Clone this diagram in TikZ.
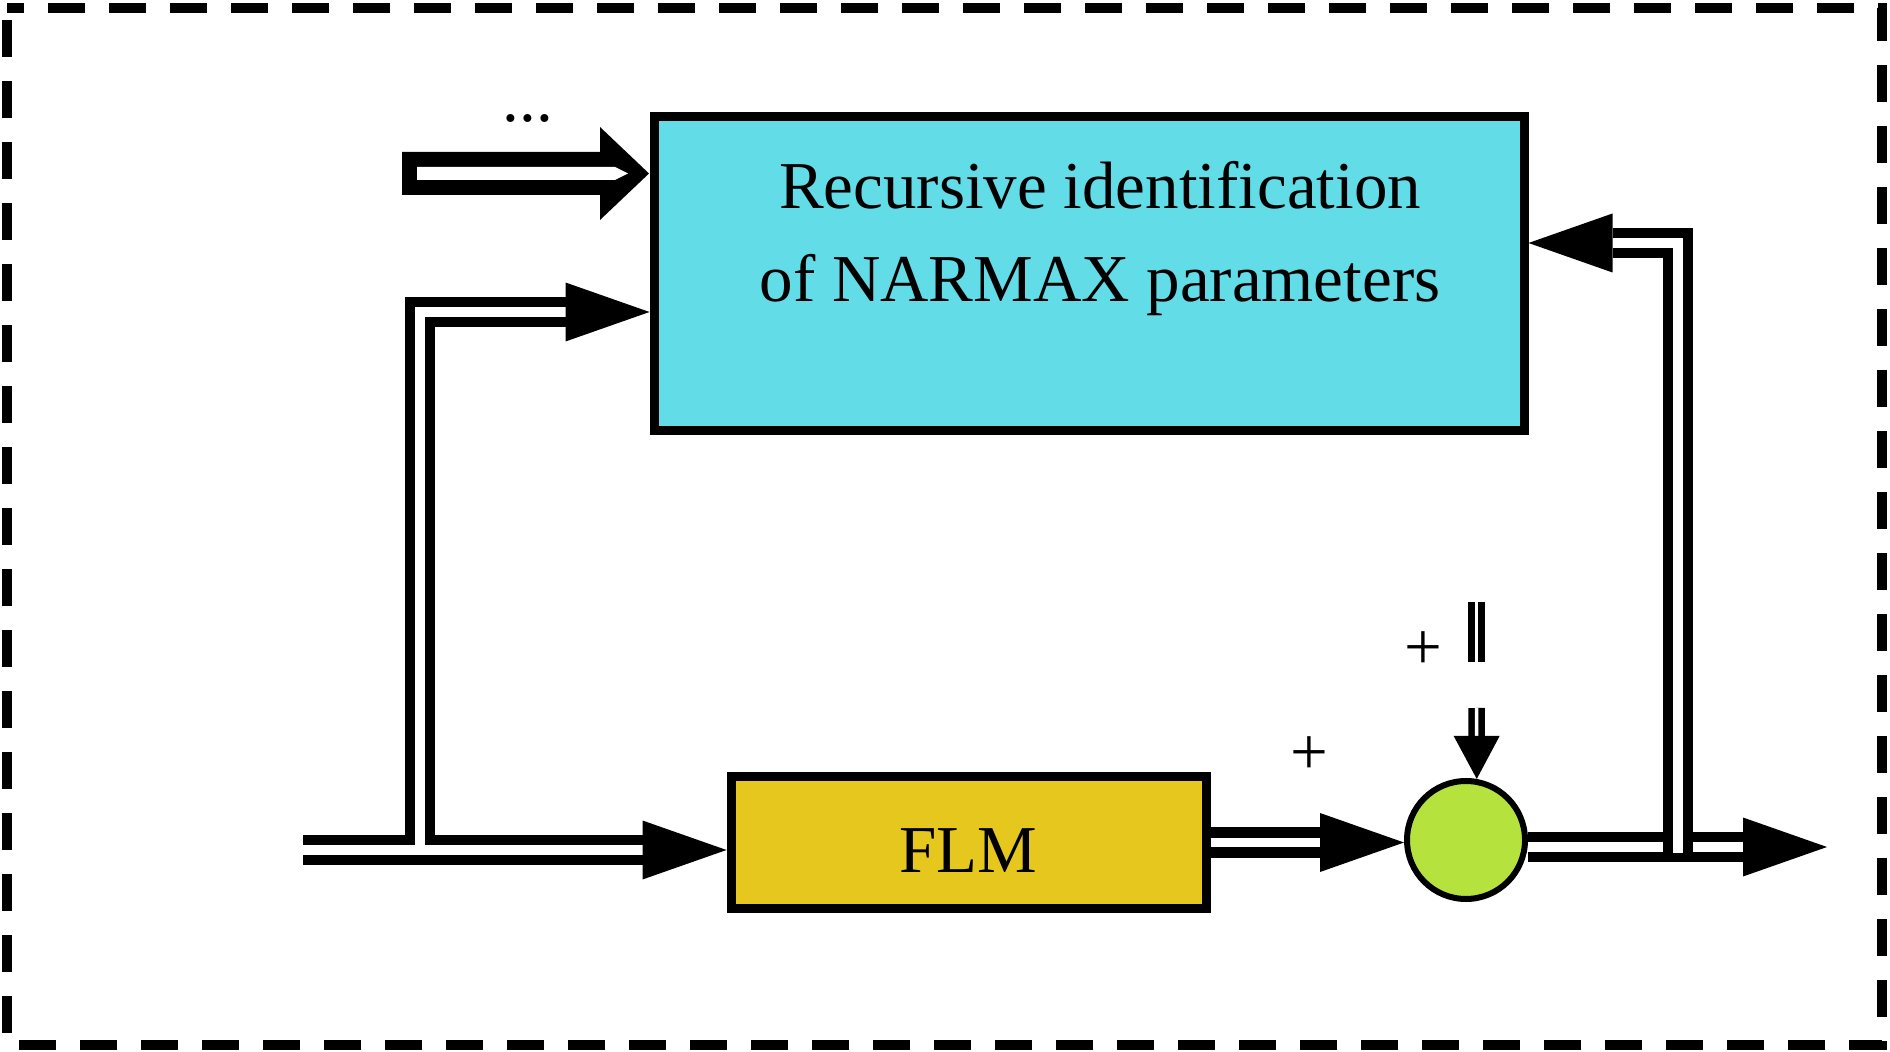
\documentclass[tikz,border=0pt]{standalone}
\usepackage{fontspec}
\setmainfont{Liberation Serif}
\usetikzlibrary{arrows.meta}
\definecolor{boxblue}{HTML}{62DCE7}
\definecolor{boxgold}{HTML}{E6C71E}
\definecolor{sumgreen}{HTML}{B6E23E}
\begin{document}
\begin{tikzpicture}[x=0.5pt,y=-0.5pt,
  dbl/.style={line width=5.2pt, double=white, double distance=4.8pt},
  bighead/.style={-{Triangle[length=42pt,width=29.5pt,line width=0pt]}},
  thindbl/.style={line width=3.3pt, double=white, double distance=1.7pt},
  smallhead/.style={-{Triangle[length=21.5pt,width=23pt,line width=0pt]}},
  blockbox/.style={draw=black, line width=4.5pt, inner sep=0pt},
  txt/.style={font=\fontsize{33.5}{46.5}\selectfont, inner sep=0pt, text=black}
]
\useasboundingbox (0,0) rectangle (1890,1052);
\fill[white] (0,0) rectangle (1890,1052);

% dashed frame
\draw[line width=5pt, dash pattern=on 18.5pt off 12pt, dash phase=-6pt] (7,8) rectangle (1882,1045);

% blocks
\node[blockbox, fill=boxblue, minimum width=435pt, minimum height=157pt] (rid) at (1089,274) {};
\node[txt, align=center] (ridtext) at (1100,239) {Recursive identification\\of NARMAX parameters};
\node[blockbox, fill=boxgold, minimum width=237.5pt, minimum height=65.5pt, txt, inner sep=0pt, text height=30.2pt, text depth=0pt] (flm) at (968.5,842.5) {FLM};
\node[draw=black, line width=3pt, fill=sumgreen, circle, minimum size=59pt, inner sep=0pt] (sum) at (1466,840) {};

% coordinates
\coordinate (in) at (303,850);
\coordinate (br) at (420,845);
\coordinate (brtop) at (420,312);
\coordinate (out) at (1827,847);
\coordinate (fb) at (1678,853);
\coordinate (fbtop) at (1678,243);
\coordinate (dA) at (1476.6,602);
\coordinate (dB) at (1476.6,662);
\coordinate (dC) at (1476.6,708);

% input -> FLM
\draw[dbl, bighead] (in) -- (flm.west |- in);
% branch -> identification block
\draw[dbl, bighead] (br) -- (brtop) -- (rid.west |- brtop);
% FLM -> sum
\draw[dbl, bighead] (flm.east) -- (sum.west |- flm.east);
% sum -> output
\draw[dbl, bighead] (sum.east |- out) -- (out);
% feedback -> identification block
\draw[dbl, bighead] (fb) -- (fbtop) -- (rid.east |- fbtop);
% disturbance into sum
\draw[thindbl] (dA) -- (dB);
\draw[thindbl, smallhead] (dC) -- (sum.80);

% hollow input arrow
\fill[black] (402,152) -- (600,152) -- (600,127) -- (649,173.5) -- (600,220) -- (600,195) -- (402,195) -- cycle;
\fill[white] (417,167) -- (615,167) -- (628,173.5) -- (615,180) -- (417,180) -- cycle;
\node[txt] (dots) at (528,118) {...};

% signs
\node[txt] (plusA) at (1309,756) {+};
\node[txt] (plusB) at (1423,651) {+};
\end{tikzpicture}
\end{document}
